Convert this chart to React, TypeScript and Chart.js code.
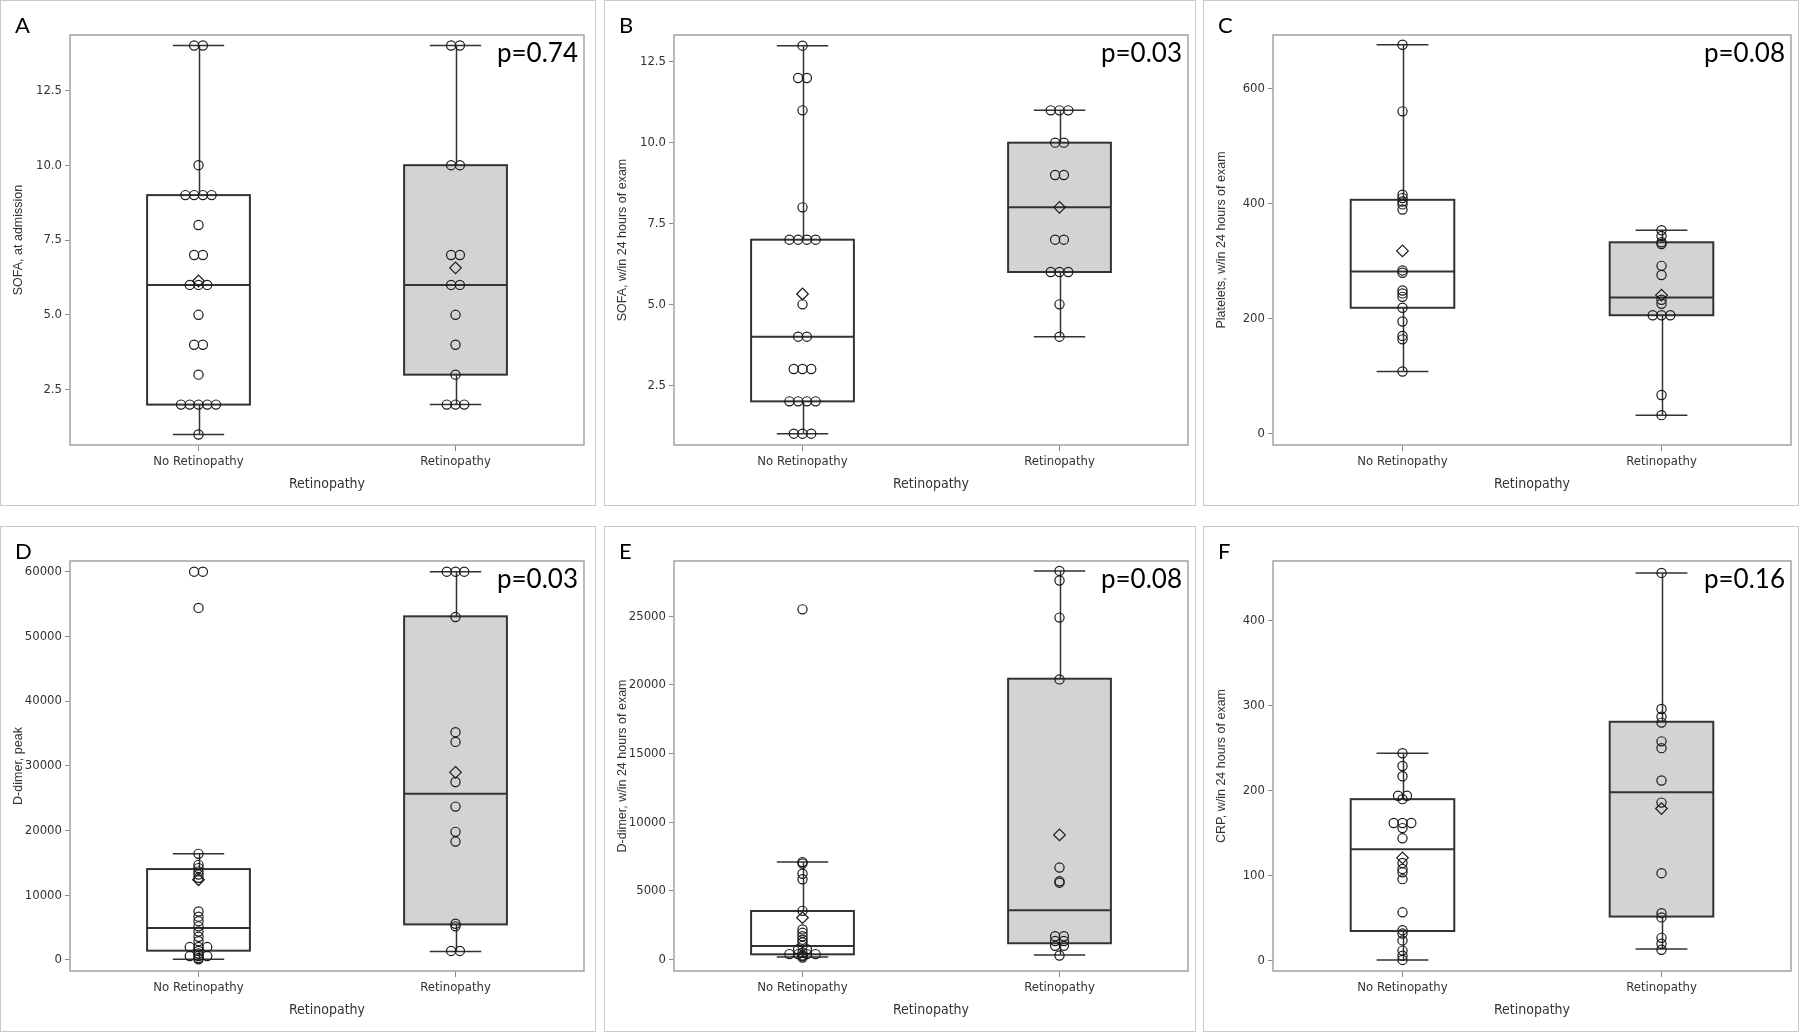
import React, { useEffect, useRef } from "react";
import { Chart, registerables } from "chart.js";

Chart.register(...registerables);

// ---------- shared labels ----------
const groups = ["No Retinopathy", "Retinopathy"];
const xTitle = "Retinopathy";
const panelLetters = ["A", "B", "C", "D", "E", "F"];
const pValues = ["p=0.74", "p=0.03", "p=0.08", "p=0.03", "p=0.08", "p=0.16"];
const yTitles = [
  "SOFA, at admission",
  "SOFA, w/in 24 hours of exam",
  "Platelets, w/in 24 hours of exam",
  "D-dimer, peak",
  "D-dimer, w/in 24 hours of exam",
  "CRP, w/in 24 hours of exam",
];

// ---------- A: SOFA at admission ----------
const sofaAdmNoRet = [14, 14, 10, 9, 9, 9, 9, 8, 7, 7, 6, 6, 6, 5, 4, 4, 3, 2, 2, 2, 2, 2, 1];
const sofaAdmRet = [14, 14, 10, 10, 7, 7, 6, 6, 5, 4, 3, 2, 2, 2];
const sofaAdmBox = [[1, 2, 6, 9, 14], [2, 3, 6, 10, 14]]; // min, q1, median, q3, max
const sofaAdmMean = [6.13, 6.57];
const sofaAdmTicks = [2.5, 5, 7.5, 10, 12.5];
const sofaAdmRange = [0.65, 14.35];

// ---------- B: SOFA w/in 24h ----------
const sofa24NoRet = [13, 12, 12, 11, 8, 7, 7, 7, 7, 5, 4, 4, 3, 3, 3, 2, 2, 2, 2, 1, 1, 1];
const sofa24Ret = [11, 11, 11, 10, 10, 9, 9, 7, 7, 6, 6, 6, 5, 4];
const sofa24Box = [[1, 2, 4, 7, 13], [4, 6, 8, 10, 11]];
const sofa24Mean = [5.32, 8.0];
const sofa24Ticks = [2.5, 5, 7.5, 10, 12.5];
const sofa24Range = [0.65, 13.33];

// ---------- C: Platelets ----------
const pltNoRet = [677, 561, 416, 410, 404, 399, 390, 284, 280, 249, 244, 238, 219, 195, 170, 164, 108];
const pltRet = [354, 344, 333, 330, 292, 276, 233, 226, 206, 206, 206, 67, 32];
const pltBox = [[108, 219, 282, 407, 677], [32, 206, 237, 333, 354]];
const pltMean = [318, 241];
const pltTicks = [0, 200, 400, 600];
const pltRange = [-20, 694];

// ---------- D: D-dimer peak ----------
const ddPeakNoRet = [60000, 60000, 54400, 16400, 14700, 14200, 13700, 13200, 12700, 7500, 6700, 6000, 5200, 4400, 3600, 2900, 2000, 2000, 2000, 1400, 1000, 600, 600, 600, 300, 100];
const ddPeakRet = [60000, 60000, 60000, 53000, 35200, 33700, 27500, 23700, 19800, 18300, 5600, 5200, 1400, 1400];
const ddPeakBox = [[100, 1440, 4930, 14050, 16400], [1300, 5500, 25700, 53100, 60000]];
const ddPeakMean = [12400, 29000];
const ddPeakTicks = [0, 10000, 20000, 30000, 40000, 50000, 60000];
const ddPeakRange = [-1700, 61650];

// ---------- E: D-dimer w/in 24h ----------
const dd24NoRet = [25500, 7100, 7000, 6250, 5850, 3550, 2200, 1950, 1700, 1450, 1250, 1000, 750, 750, 500, 400, 400, 400, 400, 300, 250, 150];
const dd24Ret = [28300, 27600, 24900, 20400, 6700, 5700, 5600, 1700, 1700, 1350, 1350, 1000, 1000, 300];
const dd24Box = [[190, 385, 990, 3540, 7100], [330, 1190, 3600, 20450, 28300]];
const dd24Mean = [3050, 9080];
const dd24Ticks = [0, 5000, 10000, 15000, 20000, 25000];
const dd24Range = [-830, 29020];

// ---------- F: CRP w/in 24h ----------
const crpNoRet = [244, 229, 217, 194, 194, 190, 162, 162, 162, 156, 144, 115, 108, 104, 96, 57, 36, 32, 24, 12, 6, 1];
const crpRet = [456, 296, 287, 280, 258, 250, 212, 186, 103, 56, 51, 27, 20, 13];
const crpBox = [[1, 35, 131, 190, 244], [14, 52, 198, 281, 456]];
const crpMean = [121, 179];
const crpTicks = [0, 100, 200, 300, 400];
const crpRange = [-12, 470];

const panels = [
  { noRet: sofaAdmNoRet, ret: sofaAdmRet, box: sofaAdmBox, mean: sofaAdmMean, ticks: sofaAdmTicks, range: sofaAdmRange, dec: 1 },
  { noRet: sofa24NoRet, ret: sofa24Ret, box: sofa24Box, mean: sofa24Mean, ticks: sofa24Ticks, range: sofa24Range, dec: 1 },
  { noRet: pltNoRet, ret: pltRet, box: pltBox, mean: pltMean, ticks: pltTicks, range: pltRange, dec: 0 },
  { noRet: ddPeakNoRet, ret: ddPeakRet, box: ddPeakBox, mean: ddPeakMean, ticks: ddPeakTicks, range: ddPeakRange, dec: 0 },
  { noRet: dd24NoRet, ret: dd24Ret, box: dd24Box, mean: dd24Mean, ticks: dd24Ticks, range: dd24Range, dec: 0 },
  { noRet: crpNoRet, ret: crpRet, box: crpBox, mean: crpMean, ticks: crpTicks, range: crpRange, dec: 0 },
];

// ---------- layout (pixels) ----------
const COL_LEFT = [0, 604, 1203];
const COL_W = [596, 592, 596];
const COL_PLOT_RIGHT = [12, 8, 8];
const ROW_TOP = [0, 526];
const ROW_H = [506, 506];
const PLOT_TOP = 35;
const Y_AXIS_W = 70;
const X_AXIS_H = 61;
const JITTER = 0.034;
const BOX_HALF = 0.2;
const CAP_HALF = 0.1;
const BOX_FILLS = ["#ffffff", "#d3d3d3"];

const narrow = "'Liberation Sans Narrow', 'DejaVu Sans Condensed', 'Liberation Sans', sans-serif";
const regular = "'Liberation Sans', Arial, sans-serif";

function jitter(vals: number[], center: number) {
  const counts = new Map<number, number>();
  vals.forEach((v) => counts.set(v, (counts.get(v) || 0) + 1));
  const seen = new Map<number, number>();
  return vals.map((v) => {
    const n = counts.get(v) as number;
    const k = seen.get(v) || 0;
    seen.set(v, k + 1);
    return { x: center + (k - (n - 1) / 2) * JITTER, y: v };
  });
}

function Panel({ idx }: { idx: number }) {
  const ref = useRef<HTMLCanvasElement>(null);
  const col = idx % 3;
  const row = Math.floor(idx / 3);
  const w = COL_W[col];
  const h = ROW_H[row];

  useEffect(() => {
    const p = panels[idx];
    const canvas = ref.current as HTMLCanvasElement;

    const boxPlugin = {
      id: "boxplot" + idx,
      beforeDatasetsDraw(chart: any) {
        const { ctx } = chart;
        const xs = chart.scales.x;
        const ys = chart.scales.y;
        p.box.forEach((b: number[], i: number) => {
          const c = i + 1;
          const cx = Math.round(xs.getPixelForValue(c)) + 0.5;
          const bl = xs.getPixelForValue(c - BOX_HALF);
          const br = xs.getPixelForValue(c + BOX_HALF);
          const cl = xs.getPixelForValue(c - CAP_HALF);
          const cr = xs.getPixelForValue(c + CAP_HALF);
          const [mn, q1, md, q3, mx] = b.map((v) => ys.getPixelForValue(v));
          ctx.save();
          ctx.strokeStyle = "#333333";
          ctx.lineWidth = 1.5;
          ctx.beginPath();
          ctx.moveTo(cx, mn);
          ctx.lineTo(cx, mx);
          ctx.stroke();
          ctx.fillStyle = BOX_FILLS[i];
          ctx.fillRect(bl, q3, br - bl, q1 - q3);
          ctx.lineWidth = 2;
          ctx.strokeRect(bl, q3, br - bl, q1 - q3);
          ctx.beginPath();
          ctx.moveTo(bl, md);
          ctx.lineTo(br, md);
          ctx.stroke();
          ctx.lineWidth = 1.5;
          ctx.beginPath();
          ctx.moveTo(cl, mn);
          ctx.lineTo(cr, mn);
          ctx.moveTo(cl, mx);
          ctx.lineTo(cr, mx);
          ctx.stroke();
          ctx.restore();
        });
      },
      afterDraw(chart: any) {
        const { ctx, chartArea, width, height } = chart;
        ctx.save();
        // plot frame
        ctx.strokeStyle = "#a3a3a3";
        ctx.lineWidth = 1.5;
        ctx.strokeRect(chartArea.left, chartArea.top, chartArea.right - chartArea.left, chartArea.bottom - chartArea.top);
        // panel border
        ctx.strokeStyle = "#c8c8c8";
        ctx.lineWidth = 1;
        ctx.strokeRect(0.5, 0.5, width - 1, height - 1);
        // panel letter
        ctx.fillStyle = "#000";
        ctx.font = "22px Lato, 'Open Sans', sans-serif";
        ctx.textAlign = "left";
        ctx.textBaseline = "alphabetic";
        ctx.fillText(panelLetters[idx], 15, 33);
        // p-value
        ctx.font = "26px Lato, 'Open Sans', sans-serif";
        ctx.textAlign = "right";
        ctx.textBaseline = "middle";
        ctx.fillText(pValues[idx], chartArea.right - 6, chartArea.top + 19);
        ctx.restore();
      },
    };

    const pointStyleBase = {
      type: "scatter" as const,
      showLine: false,
      pointStyle: "circle",
      pointRadius: 4.6,
      pointBorderWidth: 1.2,
      pointBorderColor: "#1a1a1a",
      pointBackgroundColor: "rgba(0,0,0,0)",
      clip: false as any,
    };

    const chart = new Chart(canvas, {
      type: "scatter",
      data: {
        datasets: [
          { ...pointStyleBase, data: jitter(p.noRet, 1) },
          { ...pointStyleBase, data: jitter(p.ret, 2) },
          {
            ...pointStyleBase,
            pointStyle: "rectRot",
            pointRadius: 5.8,
            data: p.mean.map((m: number, i: number) => ({ x: i + 1, y: m })),
          },
        ],
      } as any,
      options: {
        animation: false,
        responsive: false,
        maintainAspectRatio: false,
        events: [],
        layout: { padding: { top: PLOT_TOP, right: COL_PLOT_RIGHT[col], left: 0, bottom: 0 } },
        plugins: { legend: { display: false }, tooltip: { enabled: false } },
        scales: {
          x: {
            type: "linear",
            min: 0.5,
            max: 2.5,
            afterFit: (s: any) => {
              s.height = X_AXIS_H;
            },
            afterBuildTicks: (s: any) => {
              s.ticks = groups.map((_, i) => ({ value: i + 1 }));
            },
            ticks: {
              callback: (_v: any, i: number) => groups[i],
              font: { family: narrow, size: 13 },
              color: "#333",
              padding: 3,
              autoSkip: false,
              maxRotation: 0,
            },
            grid: { display: true, drawOnChartArea: false, drawTicks: true, tickLength: 6, color: "#8a8a8a" },
            border: { display: false },
            title: {
              display: true,
              text: xTitle,
              font: { family: narrow, size: 14 },
              color: "#333",
              padding: { top: 4, bottom: 13 },
            },
          },
          y: {
            type: "linear",
            min: p.range[0],
            max: p.range[1],
            afterFit: (s: any) => {
              s.width = Y_AXIS_W;
            },
            afterBuildTicks: (s: any) => {
              s.ticks = p.ticks.map((v: number) => ({ value: v }));
            },
            ticks: {
              callback: (v: any) => Number(v).toFixed(p.dec),
              font: { family: narrow, size: 13 },
              color: "#333",
              padding: 3,
            },
            grid: { display: true, drawOnChartArea: false, drawTicks: true, tickLength: 5, color: "#8a8a8a" },
            border: { display: false },
            title: {
              display: true,
              text: yTitles[idx],
              font: { family: regular, size: 12.5 },
              color: "#333",
              padding: { top: 11, bottom: 4 },
            },
          },
        },
      } as any,
      plugins: [boxPlugin],
    });
    return () => chart.destroy();
  }, [idx]);

  return (
    <canvas
      ref={ref}
      width={w}
      height={h}
      style={{ position: "absolute", left: COL_LEFT[col], top: ROW_TOP[row], width: w, height: h }}
    />
  );
}

export default function App() {
  return (
    <div
      style={{
        position: "fixed",
        left: 0,
        top: 0,
        width: 1800,
        height: 1032,
        background: "#ffffff",
        overflow: "hidden",
      }}
    >
      {panels.map((_, i) => (
        <Panel key={i} idx={i} />
      ))}
    </div>
  );
}
